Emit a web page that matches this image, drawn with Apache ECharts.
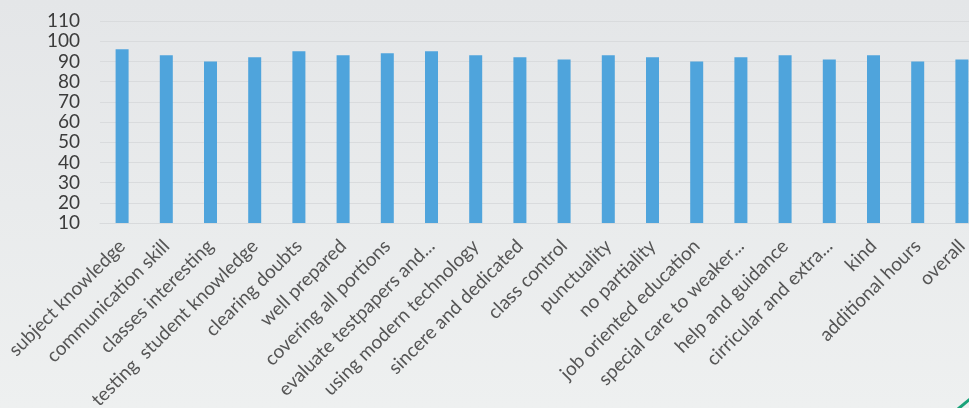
<!DOCTYPE html>
<html>
<head>
<meta charset="utf-8">
<script src="https://cdn.jsdelivr.net/npm/echarts@6/dist/echarts.min.js"></script>
<style>
html,body{margin:0;padding:0;}
body{width:969px;height:408px;overflow:hidden;background:linear-gradient(180deg,#e4e6e8 0%,#e9ebec 50%,#eef0f0 100%);}
#c{width:969px;height:408px;}
</style>
</head>
<body>
<div id="c"></div>
<script>
var categories = ["subject knowledge","communication skill","classes interesting","testing  student knowledge","clearing doubts","well prepared","covering all portions","evaluate testpapers and...","using modern technology","sincere and dedicated","class control","punctuality","no partiality","job oriented education","special care to weaker...","help and guidance","cirricular and extra...","kind","additional hours","overall"];
var values = [96,93,90,92,95,93,94,95,93,92,91,93,92,90,92,93,91,93,90,91];
var yMin = 10, yMax = 110, yStep = 10;

var chart = echarts.init(document.getElementById('c'), null, {renderer:'canvas'});
chart.setOption({
  backgroundColor: 'transparent',
  animation: false,
  grid: {left: 100, top: 21, right: -15, bottom: 185, containLabel: false, outerBoundsMode: 'none'},
  xAxis: {
    type: 'category',
    data: categories,
    axisLine: {show: true, lineStyle: {color: '#d8dadc'}},
    axisTick: {show: false},
    axisLabel: {
      interval: 0, rotate: 45, margin: 20,
      fontFamily: 'Lato, "Open Sans", sans-serif', fontSize: 19, color: '#555555'
    }
  },
  yAxis: {
    type: 'value', min: yMin, max: yMax, interval: yStep,
    axisLine: {show: false}, axisTick: {show: false},
    splitLine: {show: true, lineStyle: {color: '#d9dbdd', width: 1}},
    axisLabel: {margin: 20, fontFamily: 'Lato, "Open Sans", sans-serif', fontSize: 19, color: '#3c3c3c'}
  },
  graphic: [{
    type: 'line', silent: true,
    shape: {x1: 958, y1: 409, x2: 970, y2: 399},
    style: {stroke: '#1aa37a', lineWidth: 3}
  }],
  series: [{
    type: 'bar',
    data: values,
    barWidth: 13,
    itemStyle: {color: '#4fa4dc'}
  }]
});
</script>
</body>
</html>
